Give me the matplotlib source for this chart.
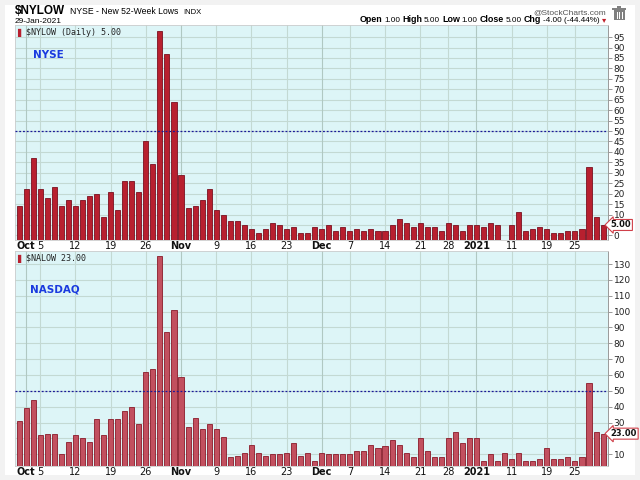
import matplotlib
matplotlib.use("Agg")
import matplotlib.pyplot as plt
from matplotlib import font_manager
import numpy as np
import pandas as pd

# ---------------- data ----------------
holidays = ["2020-11-26", "2020-12-25", "2021-01-01", "2021-01-18"]
dates = [d for d in pd.bdate_range("2020-09-30", "2021-01-29")
         if d.strftime("%Y-%m-%d") not in holidays]

nyse_lows = [14, 22, 37, 22, 18, 23, 14, 17, 14, 17, 19, 20, 9, 21, 12, 26, 26, 21,
             45, 34, 98, 87, 64, 29, 13, 14, 17, 22, 12,
             10, 7, 7, 5, 3, 1, 3, 6, 5, 3, 4, 1, 1, 4, 3, 5, 2, 4, 2, 3, 2, 3, 2, 2,
             5, 8, 6, 4, 6,
             4, 4, 2, 6, 5, 2, 5, 5, 4, 6, 5, None, 5, 11, 2, 3, 4, 3, 1, 1, 2, 2, 3,
             33, 9, 5]
nasdaq_lows = [31, 39, 44, 22, 23, 23, 10, 18, 22, 20, 18, 32, 22, 32, 32, 37, 40, 29,
               62, 64, 135, 87, 101, 59, 27, 33, 26, 29, 26,
               21, 8, 9, 11, 16, 11, 9, 10, 10, 11, 17, 9, 11, 6, 11, 10, 10, 10, 10,
               12, 12, 16, 14, 15, 19, 16, 11, 8, 20,
               12, 8, 8, 20, 24, 17, 20, 20, 6, 10, 6, 11, 7, 11, 6, 6, 7, 14, 7, 7, 8,
               6, 8, 55, 24, 23]

tick_dates = ["2020-10-01", "2020-10-05", "2020-10-12", "2020-10-19", "2020-10-26",
              "2020-11-02", "2020-11-09", "2020-11-16", "2020-11-23", "2020-12-01",
              "2020-12-07", "2020-12-14", "2020-12-21", "2020-12-28", "2021-01-04",
              "2021-01-11", "2021-01-19", "2021-01-25"]
tick_labels = ["Oct", "5", "12", "19", "26", "Nov", "9", "16", "23", "Dec", "7", "14",
               "21", "28", "2021", "11", "19", "25"]
bold_labels = ["Oct", "Nov", "Dec", "2021"]

nyse_ticks = list(range(0, 100, 5))
nasdaq_ticks = list(range(10, 140, 10))
ref_level = 50

# ---------------- styling ----------------
names = {f.name for f in font_manager.fontManager.ttflist}
SANS = "Liberation Sans" if "Liberation Sans" in names else "DejaVu Sans"
NARROW = "Liberation Sans Narrow" if "Liberation Sans Narrow" in names else SANS

BG = "#ddf5f7"
GRID = "#c3d9d3"
date_strs = [d.strftime("%Y-%m-%d") for d in dates]
tick_pos = [date_strs.index(t) for t in tick_dates]
x = np.arange(len(dates))

fig = plt.figure(figsize=(6.4, 4.8), dpi=100)
fig.patch.set_facecolor("#f2f2f2")
fig.patches.append(plt.Rectangle((5 / 640, 5 / 480), 630 / 640, 470 / 480,
                                 transform=fig.transFigure, facecolor="white",
                                 edgecolor="none", zorder=-10))

L, W = 15 / 640, 593 / 640
ax1 = fig.add_axes([L, 1 - 240 / 480, W, 215 / 480])
ax2 = fig.add_axes([L, 1 - 466 / 480, W, 215 / 480])


def style_panel(ax, vals, ylim, yticks, hidden, face, edge, title, name, last_txt):
    ax.set_facecolor(BG)
    ax.set_xlim(-0.6, len(vals) - 0.3)
    ax.set_ylim(*ylim)
    v = np.array([np.nan if a is None else a for a in vals], dtype=float)
    ok = ~np.isnan(v)
    ax.bar(x[ok], v[ok] - ylim[0], bottom=ylim[0], width=0.72, color=face,
           edgecolor=edge, linewidth=0.6, zorder=3)
    ax.axhline(ref_level, color="#1a1a9a", linestyle=(0, (1.5, 1.5)), linewidth=0.9,
               zorder=4)
    for yt in yticks:
        ax.axhline(yt, color=GRID, linewidth=0.8, zorder=1)
    for p, lab in zip(tick_pos, tick_labels):
        ax.axvline(p, color="#b0c8c2" if lab in bold_labels else GRID,
                   linewidth=0.8, zorder=1)
    ax.yaxis.tick_right()
    ax.set_yticks(yticks)
    ax.set_yticklabels(["" if t == hidden else str(t) for t in yticks], fontsize=6.5,
                       color="#222222")
    ax.tick_params(axis="y", length=3, width=0.6, pad=1, color="#888888")
    ax.set_xticks(tick_pos)
    ax.set_xticklabels(tick_labels, fontsize=7, color="#111111")
    for t in ax.get_xticklabels():
        if t.get_text() in bold_labels:
            t.set_fontweight("bold")
    ax.tick_params(axis="x", length=0, pad=1)
    for s in ["top", "left", "bottom"]:
        ax.spines[s].set_color("#cccccc")
        ax.spines[s].set_linewidth(0.6)
    ax.spines["right"].set_color("#999999")
    ax.spines["right"].set_linestyle((0, (1, 1)))
    ax.spines["right"].set_linewidth(0.7)
    ax.text(0.003, 0.988, "\u258c", transform=ax.transAxes, fontsize=6,
            color="#b8202f", va="top", ha="left")
    ax.text(0.019, 0.988, title, transform=ax.transAxes, fontsize=6,
            color="#222222", va="top", ha="left", family="DejaVu Sans Mono")
    ax.text(name[1], name[2], name[0], transform=ax.transAxes, fontsize=7.5,
            color="#1a3adf", fontweight="bold", va="center", ha="left")
    last = v[ok][-1]
    ax.annotate(last_txt, xy=(1.0, last), xycoords=("axes fraction", "data"),
                xytext=(2, 0), textcoords="offset points", fontsize=6,
                fontweight="bold", va="center", ha="left", color="#111111",
                bbox=dict(boxstyle="larrow,pad=0.12", fc="white", ec="#d0404a",
                          lw=0.8), zorder=10, annotation_clip=False)


style_panel(ax1, nyse_lows, (-2.2, 100.8), nyse_ticks, 5, "#b8202f", "#7a1020",
            "$NYLOW (Daily) 5.00", ("NYSE", 0.03, 0.86), "5.00")
style_panel(ax2, nasdaq_lows, (2.6, 138.2), nasdaq_ticks, 20, "#c2505f", "#8a1a2a",
            "$NALOW 23.00", ("NASDAQ", 0.025, 0.82), "23.00")

# ---------------- header ----------------
renderer = fig.canvas.get_renderer()


def seq_text(x0, y0, pieces, align="left", gap=0.004):
    objs = []
    for txt, kw in pieces:
        objs.append(fig.text(0, y0, txt, va="baseline", ha="left", **kw))
    widths = [o.get_window_extent(renderer=renderer).width / fig.bbox.width
              for o in objs]
    total = sum(widths) + gap * (len(objs) - 1)
    cur = x0 if align == "left" else x0 - total
    for o, w in zip(objs, widths):
        o.set_x(cur)
        cur += w + gap


seq_text(15 / 640, 1 - 14 / 480,
         [("$NYLOW", dict(fontsize=8.5, fontweight="bold", family=NARROW)),
          ("NYSE - New 52-Week Lows", dict(fontsize=6.2, family=SANS)),
          ("INDX", dict(fontsize=5.5, family=SANS))], gap=0.008)
fig.text(15 / 640, 1 - 23 / 480, "29-Jan-2021", fontsize=6, va="baseline",
         family=SANS)
fig.text(606 / 640, 1 - 14 / 480, "@StockCharts.com", fontsize=6, color="#555555",
         ha="right", va="baseline", family=SANS)
B = dict(fontsize=6.4, fontweight="bold", family=SANS)
N = dict(fontsize=5.9, family=SANS)
seq_text(606 / 640, 1 - 22.5 / 480,
         [("Open", B), ("1.00", N), ("High", B), ("5.00", N), ("Low", B), ("1.00", N),
          ("Close", B), ("5.00", N), ("Chg", B), ("-4.00 (-44.44%)", N),
          ("\u25be", dict(fontsize=6, color="#c0202a"))], align="right", gap=0.003)

# trash icon
for (px, py, pw, ph) in [(612, 8, 14, 1.6), (617, 6, 4, 2), (613.5, 10, 11, 10)]:
    fig.patches.append(plt.Rectangle((px / 640, 1 - (py + ph) / 480), pw / 640,
                                     ph / 480, transform=fig.transFigure,
                                     facecolor="#808080", edgecolor="none"))
for lx in (616.5, 619, 621.5):
    fig.patches.append(plt.Rectangle((lx / 640, 1 - 18.5 / 480), 1 / 640, 7 / 480,
                                     transform=fig.transFigure, facecolor="white",
                                     edgecolor="none"))

fig.savefig("out.png", dpi=100, facecolor=fig.get_facecolor())
